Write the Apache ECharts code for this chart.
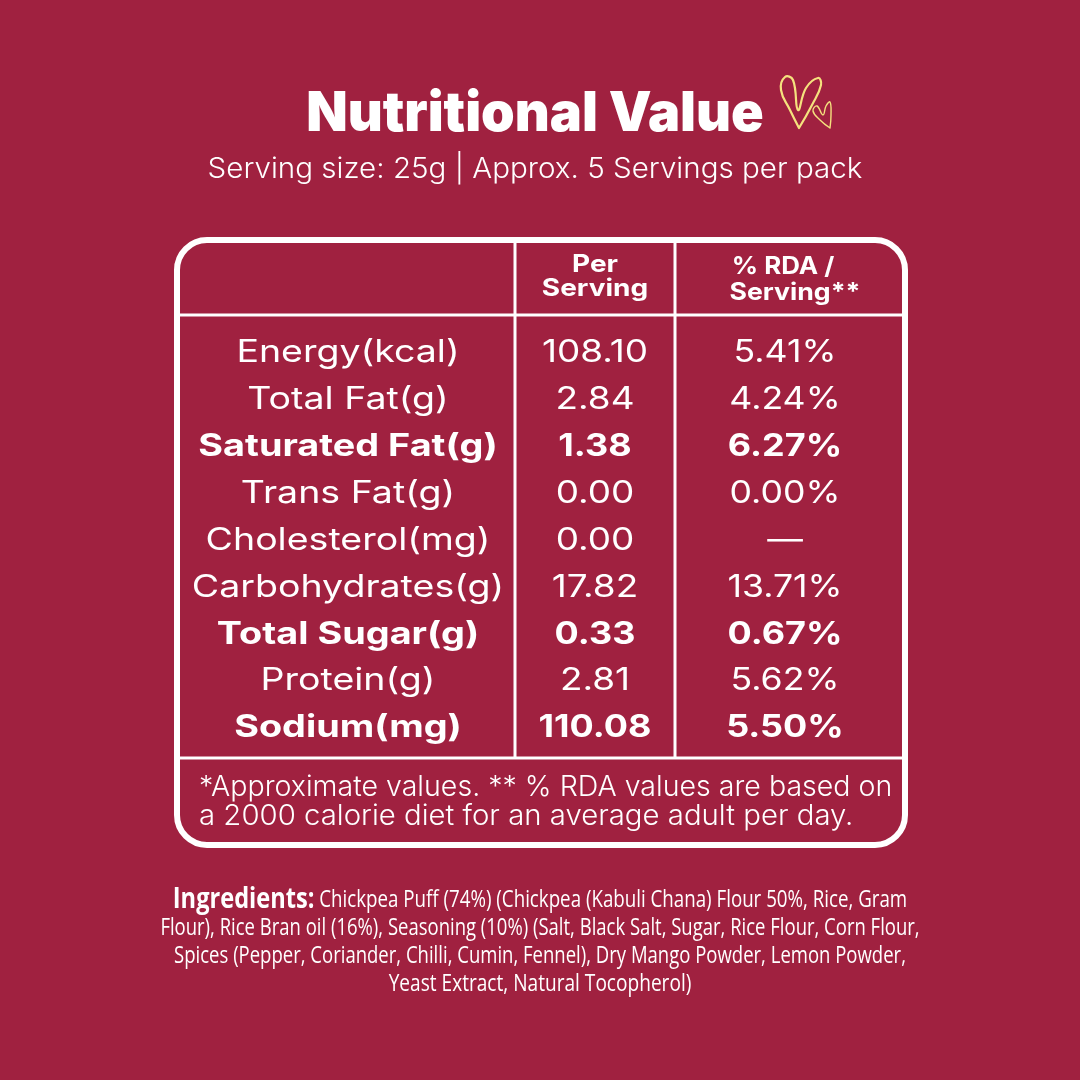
<!DOCTYPE html>
<html>
<head>
<meta charset="utf-8">
<style>html,body{margin:0;padding:0;background:#a02140}#main{width:1080px;height:1080px}</style>
<script src="https://cdn.jsdelivr.net/npm/echarts@6/dist/echarts.min.js"></script>
</head>
<body>
<div id="main"></div>
<script>
var nutrients = ['Energy(kcal)','Total Fat(g)','Saturated Fat(g)','Trans Fat(g)','Cholesterol(mg)','Carbohydrates(g)','Total Sugar(g)','Protein(g)','Sodium(mg)'];
var perServing = ['108.10','2.84','1.38','0.00','0.00','17.82','0.33','2.81','110.08'];
var rdaServing = ['5.41%','4.24%','6.27%','0.00%','—','13.71%','0.67%','5.62%','5.50%'];
var boldRows = ['Saturated Fat(g)','Total Sugar(g)','Sodium(mg)'];
var titleText = 'Nutritional Value';
var subtitleText = 'Serving size: 25g | Approx. 5 Servings per pack';
var footnotes = ['*Approximate values. ** % RDA values are based on','a 2000 calorie diet for an average adult per day.'];
var ingredients = [
  '{b|Ingredients:} Chickpea Puff (74%) (Chickpea (Kabuli Chana) Flour 50%, Rice, Gram',
  'Flour), Rice Bran oil (16%), Seasoning (10%) (Salt, Black Salt, Sugar, Rice Flour, Corn Flour,',
  'Spices (Pepper, Coriander, Chilli, Cumin, Fennel), Dry Mango Powder, Lemon Powder,',
  'Yeast Extract, Natural Tocopherol)'
];

var WHITE = '#ffffff', BG = '#a02140', GOLD = '#f5e27e';
var colCenters = [348, 595, 785];
var colScale = [1.21, 1.19, 1.15];
var boldScale = [1.22, 1.16, 1.16];
var footScale = [1.02, 1.048];
var ingScale = [0.814, 0.804, 0.805, 0.83];
var body = 'Inter', heavy = 'Inter';

var rows = [];
nutrients.forEach(function (name, i) {
  var bold = boldRows.indexOf(name) >= 0 ? 1 : 0;
  rows.push([colCenters[0], name, name, bold, 0]);
  rows.push([colCenters[1], name, perServing[i], bold, 1]);
  rows.push([colCenters[2], name, rdaServing[i], bold, 2]);
});

function txt(x, y, text, font, sx, align, rich) {
  return {
    type: 'text', x: x, y: y, scaleX: sx, z: 5,
    style: { text: text, x: 0, y: 0, font: font, fill: WHITE, align: align || 'center', verticalAlign: 'middle', rich: rich }
  };
}
function line(x1, y1, x2, y2, w) {
  return { type: 'line', z: 3, shape: { x1: x1, y1: y1, x2: x2, y2: y2 }, style: { stroke: WHITE, lineWidth: w } };
}
function heart(points, lw) {
  return {
    type: 'polyline', z: 4,
    shape: { points: points, smooth: 0.45 },
    style: { fill: null, stroke: GOLD, lineWidth: lw, lineCap: 'round' }
  };
}

var graphics = [
  txt(535, 114, titleText, '900 55px ' + heavy, 0.98, 'center'),
  txt(535, 170, subtitleText, '300 28px ' + body, 1.056, 'center'),
  { type: 'rect', z: 3, shape: { x: 177, y: 240, width: 728, height: 605, r: 30 }, style: { fill: null, stroke: WHITE, lineWidth: 6 } },
  line(178, 315, 904, 315, 3),
  line(178, 758, 904, 758, 3),
  line(515, 241, 515, 758, 3),
  line(675, 241, 675, 758, 3),
  txt(595, 265, 'Per', '700 24px ' + body, 1.166),
  txt(595, 289, 'Serving', '700 24px ' + body, 1.166),
  txt(783, 267, '% RDA /', '700 24px ' + body, 1.08),
  txt(795, 293, 'Serving**', '700 24px ' + body, 1.11),
  heart([[799,128],[790,110],[781,90],[785,77],[793,80],[798,110],[806,88],[818,78],[821,85],[812,105],[799,128]], 2.2),
  heart([[830,128],[820,120],[813,111],[817,106],[823,115],[826,106],[830,102],[831,115],[830,128]], 1.4)
];
footnotes.forEach(function (t, i) {
  graphics.push(txt(199, 788 + i * 29, t, '300 28px ' + body, footScale[i], 'left'));
});
ingredients.forEach(function (t, i) {
  graphics.push(txt(540, 900 + i * 28, t, '400 23px "Open Sans"', ingScale[i], 'center', {
    b: { font: '700 29px "Open Sans"', fill: WHITE }
  }));
});

var chart = echarts.init(document.getElementById('main'), null, { renderer: 'canvas' });
chart.setOption({
  backgroundColor: BG,
  animation: false,
  grid: { left: 0, right: 0, top: 327.5, height: 422 },
  xAxis: { type: 'value', min: 0, max: 1080, show: false },
  yAxis: { type: 'category', data: nutrients, inverse: true, show: false },
  graphic: graphics,
  series: [{
    type: 'custom',
    data: rows,
    encode: { x: 0, y: 1 },
    renderItem: function (params, api) {
      var d = rows[params.dataIndex];
      var p = api.coord([d[0], d[1]]);
      var f = d[3] ? '700 31px ' + body : '400 31px ' + body;
      return txt(p[0], p[1] + 2, d[2], f, d[3] ? boldScale[d[4]] : colScale[d[4]]);
    }
  }]
});
</script>
</body>
</html>
